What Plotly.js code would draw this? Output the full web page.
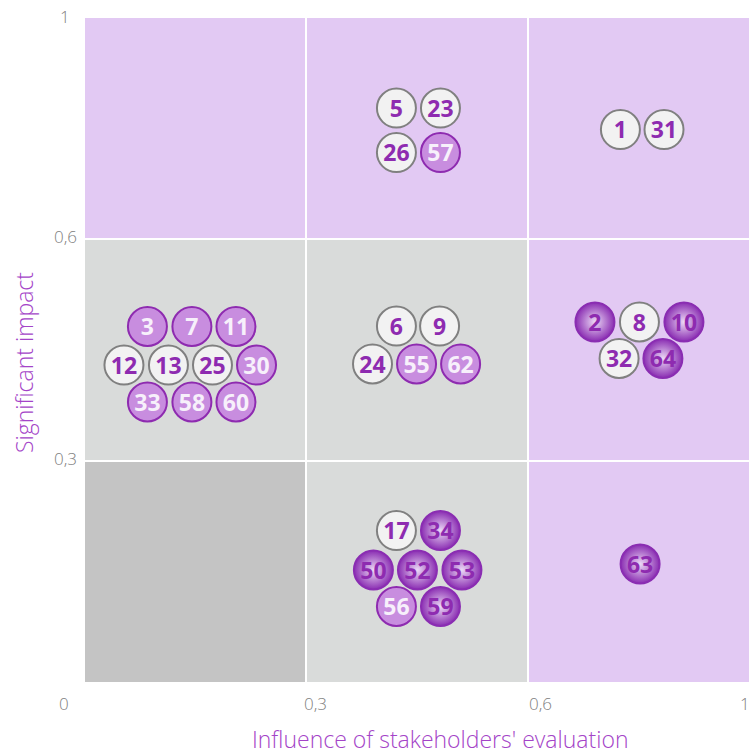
<!DOCTYPE html>
<html>
<head>
<meta charset="utf-8">
<script src="https://cdn.plot.ly/plotly-3.0.1.min.js"></script>
<style>html,body{margin:0;padding:0;background:#fff;}#chart{width:751px;height:755px;}</style>
</head>
<body>
<div id="chart"></div>
<script>
// ---- Data (axis units: each cell spans 1 unit; tick labels map 0,1,2,3 -> 0, 0.3, 0.6, 1) ----
const xTickLabels = ['0', '0,3', '0,6', '1'];
const yTickLabels = ['0', '0,3', '0,6', '1'];
const xTitle = "Influence of stakeholders' evaluation";
const yTitle = 'Significant impact';

const ids = ['5','23','26','57','1','31',
             '3','7','11','12','13','25','30','33','58','60',
             '6','9','24','55','62',
             '2','8','10','32','64',
             '17','34','50','52','53','56','59',
             '63'];
const xs = [1.407,1.606,1.407,1.606,2.419,2.616,
            0.282,0.483,0.682,0.176,0.377,0.576,0.775,0.282,0.483,0.682,
            1.407,1.602,1.299,1.498,1.697,
            2.304,2.505,2.706,2.413,2.611,
            1.407,1.606,1.303,1.502,1.703,1.407,1.606,
            2.508];
const ys = [2.593,2.593,2.392,2.392,2.496,2.496,
            1.606,1.606,1.606,1.432,1.432,1.432,1.432,1.265,1.265,1.265,
            1.608,1.608,1.437,1.437,1.437,
            1.627,1.627,1.627,1.462,1.462,
            0.684,0.684,0.506,0.506,0.506,0.341,0.341,
            0.533];
// W = white, L = light purple, D = dark purple
const types = ['W','W','W','L','W','W',
               'L','L','L','W','W','W','L','L','L','L',
               'W','W','W','L','L',
               'D','W','D','W','D',
               'W','D','D','D','D','L','D',
               'D'];

// cell background category per row (bottom -> top), col (left -> right)
const cellCategory = [
  ['low', 'mid', 'high'],
  ['mid', 'mid', 'high'],
  ['high','high','high']
];

// ---- Styles ----
const cellColors = {low: '#c4c4c4', mid: '#d9dbda', high: '#e2c9f3'};
const purple = '#8e2bb0';
const styles = {
  W: {fill: '#f2f2f2', line: '#808080', text: purple, gradient: null},
  L: {fill: '#c88ddf', line: '#8e2bb0', text: '#f7f0fb', gradient: null},
  D: {fill: '#8a2db2', line: '#8a2db2', text: purple, gradient: '#ecdaf6'}
};
const textNudgePx = 3;            // visual centring of labels inside the circles
const plotPx = 664;               // plot area height in px
const nudge = textNudgePx * 3 / plotPx;

const markerTraces = [];
const textTraces = [];
['W','L','D'].forEach(function(t){
  const idx = [];
  types.forEach(function(v,i){ if (v === t) idx.push(i); });
  const st = styles[t];
  const marker = {size: 39, color: st.fill, line: {color: st.line, width: 2}, opacity: 1};
  if (st.gradient) marker.gradient = {type: 'radial', color: st.gradient};
  markerTraces.push({
    type: 'scatter', mode: 'markers',
    x: idx.map(i => xs[i]), y: idx.map(i => ys[i]), text: idx.map(i => ids[i]),
    marker: marker, hoverinfo: 'text', showlegend: false, cliponaxis: false
  });
  textTraces.push({
    type: 'scatter', mode: 'text', yaxis: 'y2',
    x: idx.map(i => xs[i]), y: idx.map(i => ys[i]), text: idx.map(i => ids[i]),
    textposition: 'middle center',
    textfont: {family: 'Open Sans', size: 23, color: st.text, weight: 'bold'},
    hoverinfo: 'skip', showlegend: false, cliponaxis: false
  });
});

const shapes = [];
for (let r = 0; r < 3; r++) {
  for (let c = 0; c < 3; c++) {
    shapes.push({type: 'rect', xref: 'x', yref: 'y', x0: c, x1: c + 1, y0: r, y1: r + 1,
      fillcolor: cellColors[cellCategory[r][c]], line: {width: 0}, layer: 'below'});
  }
}

const tickFont = {family: 'Open Sans', size: 17, color: '#808080', weight: 300};
const annotations = [];
const xShift = [-21, 9, 13, -4];
xTickLabels.forEach(function(lab, i){
  annotations.push({x: i, y: 0, xref: 'x', yref: 'paper', text: lab, showarrow: false,
    xanchor: 'center', yanchor: 'middle', xshift: xShift[i], yshift: -21, font: tickFont});
});
const yShift = [0, 2, 3, 2];
yTickLabels.forEach(function(lab, i){
  if (i === 0) return;
  annotations.push({x: 0, y: i, xref: 'paper', yref: 'y', text: lab, showarrow: false,
    xanchor: 'center', yanchor: 'middle', xshift: -20, yshift: yShift[i], font: tickFont});
});
const titleFont = {family: 'Open Sans', size: 23, color: '#a444c8', weight: 300};
annotations.push({x: 0.5, y: 0, xref: 'paper', yref: 'paper', text: xTitle, showarrow: false,
  xanchor: 'center', yanchor: 'middle', xshift: 23, yshift: -57, font: titleFont});
annotations.push({x: 0, y: 0.5, xref: 'paper', yref: 'paper', text: yTitle, showarrow: false,
  textangle: -90, xanchor: 'center', yanchor: 'middle', xshift: -61, yshift: -13, font: titleFont});

const layout = {
  width: 751, height: 755,
  margin: {l: 85, r: 2, t: 18, b: 73, pad: 0},
  paper_bgcolor: '#ffffff', plot_bgcolor: '#ffffff',
  xaxis: {range: [0, 3], tickvals: [1, 2], showticklabels: false, ticks: '',
          showgrid: true, gridcolor: '#ffffff', gridwidth: 2, zeroline: false, showline: false, fixedrange: true},
  yaxis: {range: [0, 3], tickvals: [1, 2], showticklabels: false, ticks: '',
          showgrid: true, gridcolor: '#ffffff', gridwidth: 2, zeroline: false, showline: false, fixedrange: true},
  yaxis2: {overlaying: 'y', range: [nudge, 3 + nudge], visible: false, showgrid: false, zeroline: false, fixedrange: true},
  shapes: shapes,
  annotations: annotations,
  showlegend: false
};

Plotly.newPlot('chart', markerTraces.concat(textTraces), layout, {displayModeBar: false, staticPlot: true});
</script>
</body>
</html>
